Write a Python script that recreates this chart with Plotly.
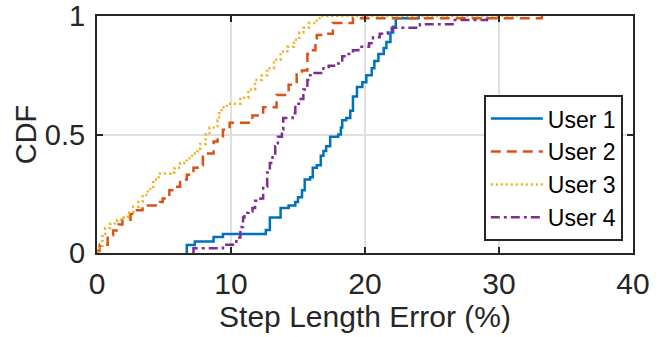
import plotly.graph_objects as go

# User 1 (blue, solid)
u1_x = [6.7, 6.7, 7.3, 8.7, 9.4, 12.6, 12.9, 13.7, 14.3, 14.8, 15.0, 15.3, 15.5, 15.9, 16.1, 16.4, 16.7, 16.9,
        17.1, 17.4, 18.0, 18.2, 18.3, 18.6, 18.9, 19.1, 19.4, 19.8, 20.1, 20.5, 20.7, 21.0, 21.4, 21.6, 21.9,
        22.1, 22.3, 24.0]
u1_y = [0, 0.034, 0.048, 0.067, 0.08, 0.097, 0.15, 0.19, 0.2, 0.215, 0.235, 0.265, 0.31, 0.32, 0.36, 0.37, 0.41,
        0.43, 0.45, 0.49, 0.5, 0.53, 0.56, 0.57, 0.6, 0.66, 0.7, 0.72, 0.75, 0.78, 0.81, 0.84, 0.865, 0.89, 0.93,
        0.955, 0.99, 1.0]

# User 2 (orange, dashed)
u2_x = [0.1, 0.1, 0.2, 0.8, 1.2, 1.6, 1.9, 2.5, 2.8, 3.4, 3.8, 4.7, 4.9, 5.4, 5.8, 6.2, 6.7, 7.2, 7.5, 7.9, 8.7,
        9.0, 9.4, 9.9, 11.6, 12.4, 13.4, 14.3, 14.9, 15.3, 15.7, 15.9, 16.3, 16.4, 16.9, 17.6, 19.1, 33.2]
u2_y = [0, 0.01, 0.035, 0.075, 0.095, 0.12, 0.14, 0.165, 0.18, 0.195, 0.2, 0.215, 0.23, 0.265, 0.28, 0.31, 0.33,
        0.36, 0.37, 0.42, 0.47, 0.485, 0.52, 0.55, 0.58, 0.615, 0.667, 0.71, 0.76, 0.77, 0.84, 0.855, 0.89, 0.92,
        0.925, 0.97, 0.99, 1.0]

# User 3 (yellow, dotted)
u3_x = [0.1, 0.1, 0.4, 0.6, 1.0, 1.5, 2.0, 2.3, 2.7, 3.1, 3.4, 3.8, 4.2, 4.6, 5.5, 5.8, 6.2, 6.7, 7.1, 7.5, 7.7,
        8.1, 8.4, 9.0, 9.1, 9.3, 9.7, 10.7, 11.3, 11.8, 12.3, 12.7, 13.2, 13.7, 14.2, 14.7, 15.1, 15.4, 15.8,
        16.4, 16.7, 31.4]
u3_y = [0, 0.02, 0.08, 0.105, 0.125, 0.14, 0.15, 0.17, 0.195, 0.215, 0.245, 0.27, 0.31, 0.335, 0.34, 0.36, 0.38,
        0.40, 0.42, 0.44, 0.46, 0.50, 0.53, 0.56, 0.59, 0.615, 0.63, 0.655, 0.69, 0.73, 0.75, 0.78, 0.815, 0.85,
        0.87, 0.90, 0.93, 0.95, 0.97, 0.99, 1.0, 1.0]

# User 4 (purple, dash-dot)
u4_x = [7.2, 7.2, 9.4, 10.4, 10.7, 10.9, 11.0, 11.3, 11.6, 11.8, 12.2, 12.4, 12.7, 12.9, 13.1, 13.3, 13.5, 13.8,
        13.9, 14.6, 14.8, 15.2, 15.4, 15.7, 15.9, 16.1, 16.9, 17.3, 18.0, 18.3, 18.6, 19.1, 19.5, 20.3, 20.6,
        21.1, 21.7, 22.0, 24.1, 26.7, 29.1]
u4_y = [0, 0.02, 0.035, 0.065, 0.11, 0.15, 0.17, 0.175, 0.19, 0.22, 0.23, 0.28, 0.34, 0.38, 0.42, 0.45, 0.49,
        0.52, 0.57, 0.59, 0.63, 0.65, 0.69, 0.73, 0.75, 0.76, 0.785, 0.79, 0.80, 0.83, 0.84, 0.855, 0.87, 0.885,
        0.91, 0.925, 0.94, 0.95, 0.965, 0.983, 1.0]

names = ["User 1", "User 2", "User 3", "User 4"]
colors = ["#0072BD", "#D95319", "#EDB120", "#7E2F8E"]
dashes = ["solid", "10px,6px", "2px,3px", "9px,4px,3px,4px"]
xs = [u1_x, u2_x, u3_x, u4_x]
ys = [u1_y, u2_y, u3_y, u4_y]

x_ticks = [0, 10, 20, 30, 40]
y_ticks = [0, 0.5, 1]
y_ticklabels = ["0", "0.5", "1"]

FONT = "Liberation Sans"
TXT = "#262626"

fig = go.Figure()
for n, c, d, x, y in zip(names, colors, dashes, xs, ys):
    fig.add_trace(go.Scatter(x=x, y=y, mode="lines", name=n, line=dict(color=c, width=2.5, dash=d, shape="hv")))

axis_common = dict(showline=True, mirror="ticks", linecolor=TXT, linewidth=2,
                   ticks="inside", ticklen=6, tickwidth=2, tickcolor=TXT,
                   showgrid=True, gridcolor="#dfdfdf", gridwidth=2, zeroline=False,
                   automargin=False, ticklabeloverflow="allow")

fig.update_xaxes(range=[0, 40], tickvals=x_ticks, ticklabelstandoff=3,
                 tickfont=dict(family=FONT, size=30, color=TXT),
                 title=dict(text="Step Length Error (%)", font=dict(family=FONT, size=30, color=TXT), standoff=4),
                 **axis_common)
fig.update_yaxes(range=[0, 1], tickvals=y_ticks, ticktext=y_ticklabels, ticklabelstandoff=4,
                 tickfont=dict(family=FONT, size=29, color=TXT),
                 title=dict(text="CDF", font=dict(family=FONT, size=29, color=TXT), standoff=0),
                 **axis_common)

fig.update_layout(width=662, height=337, margin=dict(l=97, r=29, t=16, b=84),
                  plot_bgcolor="white", paper_bgcolor="white",
                  legend=dict(x=0.981, y=0.05, xanchor="right", yanchor="bottom",
                              bgcolor="white", bordercolor=TXT, borderwidth=2,
                              font=dict(family=FONT, size=23, color="#000000"),
                              tracegroupgap=0, itemwidth=52))

fig.write_html("out.html")
